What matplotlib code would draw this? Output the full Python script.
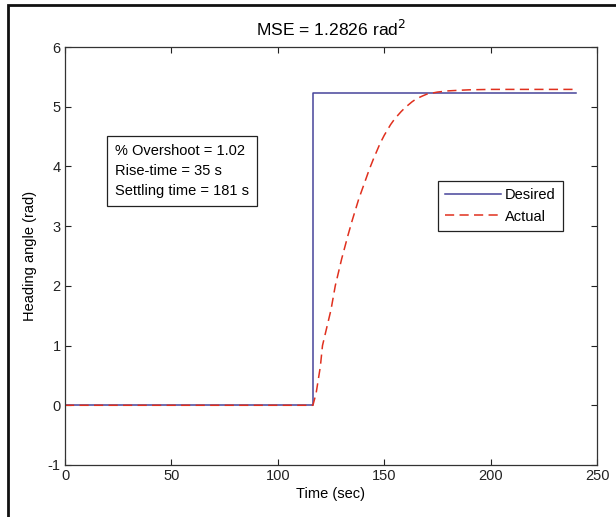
import matplotlib
matplotlib.use('Agg')
import matplotlib.pyplot as plt
from matplotlib.patches import Rectangle
import numpy as np

plt.rcParams['font.family'] = ['Liberation Sans', 'DejaVu Sans']
plt.rcParams['font.size'] = 10.5
plt.rcParams['axes.unicode_minus'] = False

# Desired heading (step)
t_desired = [0, 116.5, 116.5, 240]
y_desired = [0, 0, 5.236, 5.236]

# Actual heading
t_actual = [0, 116.5, 118, 120, 121, 123, 125, 127, 130, 133, 135, 138, 140, 143, 145, 148,
            150, 153, 155, 158, 160, 163, 165, 168, 170, 175, 180, 185, 190, 200, 210, 240]
y_actual = [0, 0, 0.2, 0.65, 1.0, 1.3, 1.6, 2.0, 2.45, 2.85, 3.1, 3.45, 3.65, 3.95, 4.13, 4.38,
            4.52, 4.7, 4.8, 4.92, 4.99, 5.08, 5.13, 5.18, 5.21, 5.245, 5.265, 5.275, 5.283, 5.29, 5.29, 5.29]

x_ticks = [0, 50, 100, 150, 200, 250]
y_ticks = [-1, 0, 1, 2, 3, 4, 5, 6]

fig = plt.figure(figsize=(6.16, 5.17), dpi=100)
ax = fig.add_axes((65 / 616, 52 / 517, 532 / 616, 418 / 517))

ax.plot(t_desired, y_desired, color='#46449a', lw=1.1, label='Desired')
ax.plot(t_actual, y_actual, color='#e0301e', lw=1.1, linestyle=(0, (6, 3.5)), label='Actual')

ax.set_xlim(0, 250)
ax.set_ylim(-1, 6)
ax.set_xticks(x_ticks)
ax.set_yticks(y_ticks)
ax.tick_params(direction='in', top=True, right=True, length=4, width=0.8, pad=3, colors='#222222')
for s in ax.spines.values():
    s.set_color('#333333')
    s.set_linewidth(0.9)

ax.set_xlabel('Time (sec)', labelpad=3)
ax.set_ylabel('Heading angle (rad)', labelpad=8)
ax.set_title('MSE = 1.2826 rad$^{2}$', pad=8)

ax.text((115 - 65) / 532, (465 - 144) / 418,
        '% Overshoot = 1.02\nRise-time = 35 s\nSettling time = 181 s',
        transform=ax.transAxes, va='top', ha='left', linespacing=1.55,
        bbox=dict(boxstyle='square,pad=0.55', fc='white', ec='#222222', lw=0.9))

leg = ax.legend(loc='upper right', bbox_to_anchor=((563 - 65) / 532, (465 - 181) / 418),
                borderaxespad=0, fancybox=False, framealpha=1, edgecolor='#222222',
                handlelength=3.8, handletextpad=0.3, borderpad=0.5, labelspacing=0.5)
leg.get_frame().set_linewidth(0.9)

# outer frame (top and left edges visible)
fig.add_artist(Rectangle((8 / 616, -0.1), 1.2, (517 - 5) / 517 + 0.1, fill=False,
                         lw=2, ec='#111111', transform=fig.transFigure))

fig.savefig('out.png', dpi=100)
